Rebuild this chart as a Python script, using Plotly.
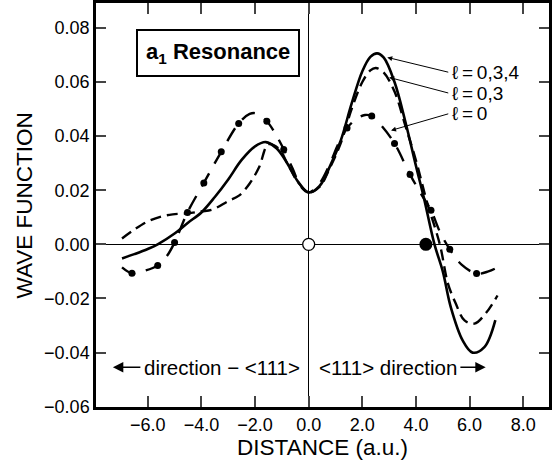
import plotly.graph_objects as go

# ---- data ----
x_l034 = [-6.96, -6.5, -6.0, -5.63, -5.0, -4.5, -4.0, -3.5, -3.0, -2.5, -2.0, -1.6, -1.2, -0.8, -0.4, 0.0,
          0.4, 0.8, 1.2, 1.6, 2.0, 2.3, 2.55, 2.8, 3.2, 3.6, 4.0, 4.3, 4.69, 5.0, 5.3, 5.74, 6.11, 6.55, 6.96]
y_l034 = [-0.0052, -0.0036, -0.0017, 0.0, 0.0040, 0.0080, 0.0118, 0.0175, 0.0240, 0.0312, 0.0362, 0.0378,
          0.0355, 0.0300, 0.0232, 0.0192, 0.0215, 0.0290, 0.0385, 0.0520, 0.0640, 0.0693, 0.0706, 0.0690,
          0.0600, 0.0455, 0.0290, 0.0170, 0.0, -0.0100, -0.0233, -0.0355, -0.0400, -0.0380, -0.0280]

x_l03 = [-6.96, -6.5, -6.0, -5.5, -5.07, -4.5, -4.0, -3.6, -3.0, -2.6, -2.2, -1.85, -1.5, -1.1, -0.8, -0.4, 0.0,
         0.4, 0.8, 1.2, 1.6, 2.0, 2.3, 2.5, 2.8, 3.2, 3.6, 4.0, 4.4, 4.89, 5.19, 5.48, 5.81, 6.18, 6.6, 7.04]
y_l03 = [0.0022, 0.0055, 0.0085, 0.0103, 0.0111, 0.0115, 0.0122, 0.0128, 0.0160, 0.0180, 0.0225, 0.0285,
         0.0370, 0.0352, 0.0300, 0.0230, 0.0192, 0.0212, 0.0285, 0.0375, 0.0500, 0.0600, 0.0643, 0.0652,
         0.0635, 0.0565, 0.0440, 0.0310, 0.0160, 0.0, -0.0144, -0.0218, -0.0281, -0.0293, -0.0255, -0.0189]

x_l0 = [-6.96, -6.59, -6.2, -5.63, -5.3, -5.0, -4.52, -3.91, -3.26, -2.61, -2.2, -1.95, -1.56, -1.25, -0.93,
        -0.6, -0.3, 0.0, 0.4, 0.8, 1.1, 1.43, 1.8, 2.1, 2.35, 2.7, 3.2, 3.78, 4.2, 4.56, 4.9, 5.26, 5.7,
        6.26, 6.7, 7.1]
y_l0 = [-0.0085, -0.0107, -0.0100, -0.0078, -0.0045, 0.0007, 0.0118, 0.0227, 0.0342, 0.0447, 0.0482, 0.0484,
        0.0455, 0.0410, 0.0351, 0.0280, 0.0215, 0.0192, 0.0225, 0.0300, 0.0370, 0.0430, 0.0465, 0.0478,
        0.0474, 0.0440, 0.0373, 0.0258, 0.0185, 0.0126, 0.0045, -0.0018, -0.0075, -0.0108, -0.0100, -0.0082]

dots_x = [-6.59, -5.63, -5.0, -4.52, -3.91, -3.26, -2.61, -1.56, -0.93, 1.43, 2.35, 3.2, 3.78, 4.56, 5.26, 6.26]
dots_y = [-0.0107, -0.0078, 0.0007, 0.0118, 0.0227, 0.0342, 0.0447, 0.0455, 0.0351, 0.0430, 0.0474, 0.0373,
          0.0258, 0.0126, -0.0018, -0.0108]

open_pt = (0.0, 0.0)
filled_pt = (4.37, 0.0)

x_ticks = [-6.0, -4.0, -2.0, 0.0, 2.0, 4.0, 6.0, 8.0]
y_ticks = [-0.06, -0.04, -0.02, 0.00, 0.02, 0.04, 0.06, 0.08]

labels = ["ℓ\u2009=\u20090,3,4", "ℓ\u2009=\u20090,3", "ℓ\u2009=\u20090"]
label_tail = [(5.26, 0.0635), (5.26, 0.0558), (5.26, 0.0484)]
label_tip = [(2.93, 0.0691), (3.0, 0.0617), (3.07, 0.0421)]

FONT = "Liberation Sans, Arial, Helvetica, sans-serif"

fig = go.Figure()
fig.add_trace(go.Scatter(x=x_l034, y=y_l034, mode="lines", line=dict(color="black", width=2.6, shape="spline"),
                         showlegend=False, hoverinfo="skip"))
fig.add_trace(go.Scatter(x=x_l03, y=y_l03, mode="lines",
                         line=dict(color="black", width=2.4, dash="11px,6px", shape="spline"),
                         showlegend=False, hoverinfo="skip"))
fig.add_trace(go.Scatter(x=x_l0, y=y_l0, mode="lines",
                         line=dict(color="black", width=2.4, dash="15px,11px", shape="spline"),
                         showlegend=False, hoverinfo="skip"))
fig.add_trace(go.Scatter(x=dots_x, y=dots_y, mode="markers", marker=dict(color="black", size=7),
                         showlegend=False, hoverinfo="skip"))
fig.add_trace(go.Scatter(x=[open_pt[0]], y=[open_pt[1]], mode="markers",
                         marker=dict(color="white", size=12, line=dict(color="black", width=1.3)),
                         showlegend=False, hoverinfo="skip"))
fig.add_trace(go.Scatter(x=[filled_pt[0]], y=[filled_pt[1]], mode="markers",
                         marker=dict(color="black", size=13), showlegend=False, hoverinfo="skip"))

ann = []
ann.append(dict(x=-3.38, y=0.0707, xref="x", yref="y", text="<b>a<sub>1</sub> Resonance</b>", showarrow=False,
                font=dict(family=FONT, size=22, color="black"), bordercolor="black", borderwidth=2,
                borderpad=8, bgcolor="white"))
for t, (tx, ty), (hx, hy) in zip(labels, label_tail, label_tip):
    ann.append(dict(x=hx, y=hy, ax=tx, ay=ty, xref="x", yref="y", axref="x", ayref="y", text="",
                    showarrow=True, arrowhead=2, arrowsize=1, arrowwidth=1, arrowcolor="black"))
    ann.append(dict(x=tx, y=ty, xref="x", yref="y", text=t, showarrow=False, xanchor="left",
                    font=dict(family=FONT, size=19, color="black")))
# direction labels
ann.append(dict(x=-7.3, y=-0.0454, ax=-6.22, ay=-0.0454, xref="x", yref="y", axref="x", ayref="y", text="",
                showarrow=True, arrowhead=2, arrowsize=1.3, arrowwidth=1.6, arrowcolor="black"))
ann.append(dict(x=-6.22, y=-0.0454, xref="x", yref="y", text="direction − <111>", showarrow=False,
                xanchor="left", font=dict(family=FONT, size=20.5, color="black")))
ann.append(dict(x=6.6, y=-0.0454, ax=5.6, ay=-0.0454, xref="x", yref="y", axref="x", ayref="y", text="",
                showarrow=True, arrowhead=2, arrowsize=1.3, arrowwidth=1.6, arrowcolor="black"))
ann.append(dict(x=5.6, y=-0.0454, xref="x", yref="y", text="<111> direction", showarrow=False,
                xanchor="right", font=dict(family=FONT, size=20.5, color="black")))
# y axis title placed as an annotation to match reference position
ann.append(dict(x=-0.158, y=0.5, xref="paper", yref="paper", text="WAVE FUNCTION", textangle=-90,
                showarrow=False, xanchor="center", yanchor="middle",
                font=dict(family=FONT, size=22.5, color="black")))

fig.update_layout(
    width=552, height=460,
    margin=dict(l=96, r=0, t=3, b=53),
    paper_bgcolor="white", plot_bgcolor="white",
    font=dict(family=FONT, color="black"),
    annotations=ann,
    xaxis=dict(range=[-7.93, 8.96], tickvals=x_ticks, tickformat=".1f", ticks="inside", ticklen=11, tickwidth=2,
               showline=True, linewidth=2.5, linecolor="black", mirror="allticks", showgrid=False,
               zeroline=True, zerolinecolor="black", zerolinewidth=1.2,
               tickfont=dict(family=FONT, size=18, color="black"),
               title=dict(text="DISTANCE (a.u.)", font=dict(family=FONT, size=22.5, color="black"), standoff=9)),
    yaxis=dict(range=[-0.0601, 0.0892], tickvals=y_ticks, tickformat=".2f", ticks="inside", ticklen=10,
               tickwidth=2, showline=True, linewidth=2.5, linecolor="black", mirror="ticks", showgrid=False,
               zeroline=True, zerolinecolor="black", zerolinewidth=1.2,
               tickfont=dict(family=FONT, size=18, color="black")),
)

fig.write_html("out.html")
